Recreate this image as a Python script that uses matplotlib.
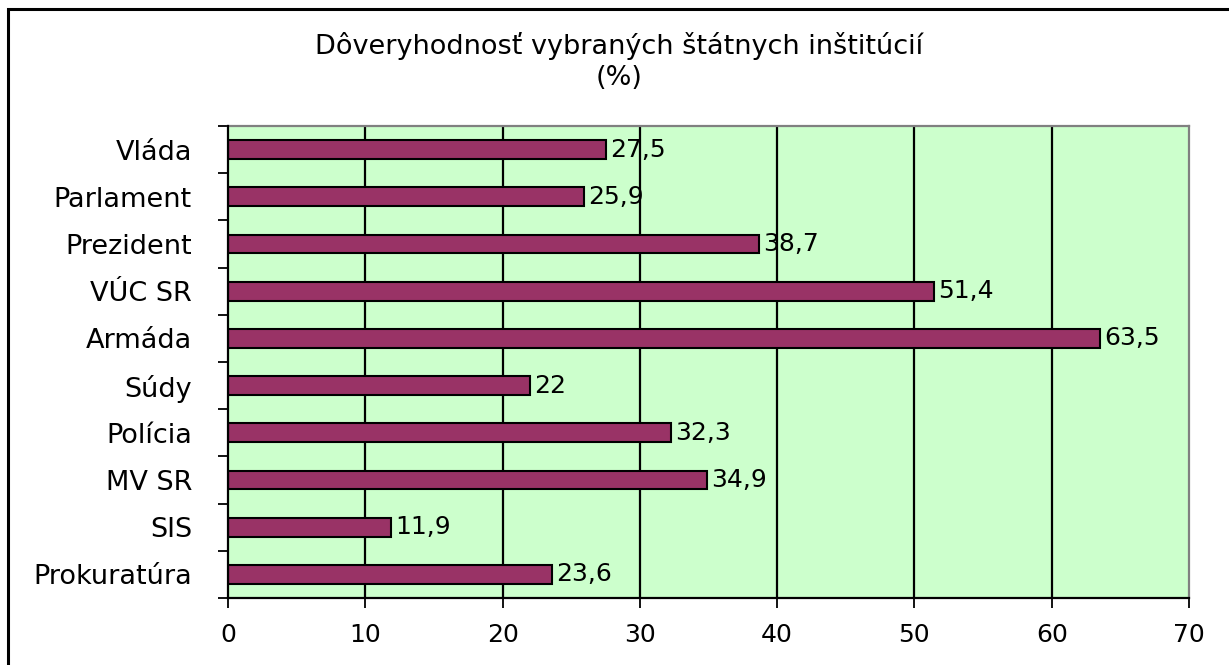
import matplotlib
matplotlib.use("Agg")
import matplotlib.pyplot as plt
from matplotlib.patches import Rectangle

categories = ["Vláda", "Parlament", "Prezident", "VÚC SR", "Armáda", "Súdy",
              "Polícia", "MV SR", "SIS", "Prokuratúra"]
values = [27.5, 25.9, 38.7, 51.4, 63.5, 22, 32.3, 34.9, 11.9, 23.6]
labels = ["27,5", "25,9", "38,7", "51,4", "63,5", "22", "32,3", "34,9", "11,9", "23,6"]
xticks = [0, 10, 20, 30, 40, 50, 60, 70]

plt.rcParams['font.family'] = ['DejaVu Sans']
FS_NUM = 18
FS_TXT = 19.5

fig = plt.figure(figsize=(12.29, 6.65), dpi=100)
W, H = 1229, 665
ax = fig.add_axes([228 / W, 1 - 598 / H, (1189 - 228) / W, (598 - 126) / H])
ax.set_facecolor('#CCFFCC')

n = len(categories)
ypos = list(range(n))
ax.barh(ypos, values, height=0.4, color='#993366', edgecolor='black', linewidth=1.5, zorder=3)
ax.set_ylim(n - 0.5, -0.5)
ax.set_xlim(0, 70)

for y, v, lab in zip(ypos, values, labels):
    ax.text(v + 0.3, y, lab, va='center', ha='left', fontsize=FS_NUM, zorder=4)

ax.set_xticks(xticks)
ax.set_xticklabels([str(t) for t in xticks], fontsize=FS_NUM)
ax.set_yticks(ypos)
ax.set_yticklabels(categories, fontsize=FS_TXT)
ax.tick_params(axis='y', which='major', length=0, pad=26)
ax.set_yticks([i - 0.5 for i in range(n + 1)], minor=True)
ax.tick_params(axis='y', which='minor', length=7, width=1.3, direction='out', color='black')
ax.tick_params(axis='x', which='major', length=7, width=1.3, direction='out', pad=11)

for t in xticks[1:-1]:
    ax.axvline(t, color='black', linewidth=1.6, zorder=2)

for s in ['top', 'right']:
    ax.spines[s].set_color('#808080')
    ax.spines[s].set_linewidth(1.6)
for s in ['left', 'bottom']:
    ax.spines[s].set_color('black')
    ax.spines[s].set_linewidth(1.6)
    ax.spines[s].set_zorder(5)

fig.text(619 / W, 1 - 46 / H, "Dôveryhodnosť vybraných štátnych inštitúcií",
         ha='center', va='center', fontsize=FS_TXT)
fig.text(619 / W, 1 - 78 / H, "(%)", ha='center', va='center', fontsize=FS_TXT)

fig.patches.append(Rectangle((8 / W, -0.1), 1.2, 1 - 9 / H + 0.1, transform=fig.transFigure,
                             fill=False, edgecolor='black', linewidth=2.2))

fig.savefig("out.png", dpi=100)
